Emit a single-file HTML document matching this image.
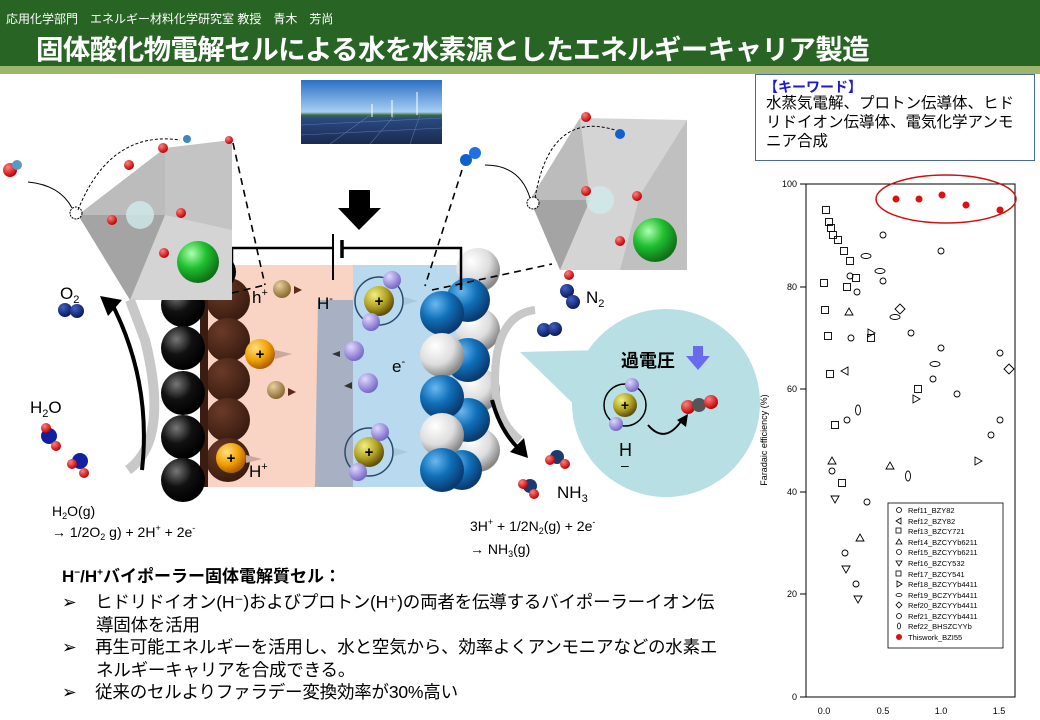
<!DOCTYPE html>
<html><head><meta charset="utf-8"><style>
body{margin:0;width:1040px;height:720px;overflow:hidden;background:#fff;position:relative;font-family:"Liberation Sans","Noto Sans CJK JP",sans-serif;}
.a{position:absolute;white-space:nowrap;}
</style></head><body>
<div class="a" style="left:0;top:0;width:1040px;height:66px;background:#286424;"></div>
<div class="a" style="left:0;top:66px;width:1040px;height:8px;background:#9cb66e;"></div>
<div class="a" style="left:6px;top:10px;font-size:12px;color:#fff;">応用化学部門　エネルギー材料化学研究室 教授　青木　芳尚</div>
<div class="a" style="left:36px;top:27px;font-size:27.5px;color:#fff;font-weight:bold;letter-spacing:-0.6px;">固体酸化物電解セルによる水を水素源としたエネルギーキャリア製造</div>

<div class="a" style="left:755px;top:74px;width:280px;height:87px;border:1px solid #4a6a9a;box-sizing:border-box;"></div>
<div class="a" style="left:764px;top:77px;font-size:14px;color:#1a1ad0;font-weight:bold;">【キーワード】</div>
<div class="a" style="left:766px;top:94px;font-size:15.5px;line-height:19px;color:#000;">水蒸気電解、プロトン伝導体、ヒド<br>リドイオン伝導体、電気化学アンモ<br>ニア合成</div>

<svg class="a" style="left:0;top:0" width="1040" height="720" viewBox="0 0 1040 720" font-family="Liberation Sans, sans-serif">
<defs>
<radialGradient id="gb" cx="0.35" cy="0.3" r="0.7"><stop offset="0" stop-color="#777"/><stop offset="0.5" stop-color="#111"/><stop offset="1" stop-color="#000"/></radialGradient>
<radialGradient id="gbr" cx="0.35" cy="0.3" r="0.7"><stop offset="0" stop-color="#6a3a28"/><stop offset="1" stop-color="#3a1c10"/></radialGradient>
<radialGradient id="gbl" cx="0.35" cy="0.3" r="0.7"><stop offset="0" stop-color="#6ab8f0"/><stop offset="0.5" stop-color="#1070b8"/><stop offset="1" stop-color="#0a3a70"/></radialGradient>
<radialGradient id="gw" cx="0.35" cy="0.3" r="0.7"><stop offset="0" stop-color="#fff"/><stop offset="0.6" stop-color="#ddd"/><stop offset="1" stop-color="#888"/></radialGradient>
<radialGradient id="gg" cx="0.35" cy="0.3" r="0.7"><stop offset="0" stop-color="#b0ffb0"/><stop offset="0.5" stop-color="#20c030"/><stop offset="1" stop-color="#107018"/></radialGradient>
<radialGradient id="go" cx="0.35" cy="0.3" r="0.7"><stop offset="0" stop-color="#ffe080"/><stop offset="0.6" stop-color="#f0a000"/><stop offset="1" stop-color="#b06000"/></radialGradient>
<radialGradient id="gy" cx="0.35" cy="0.3" r="0.7"><stop offset="0" stop-color="#f0f080"/><stop offset="0.6" stop-color="#b0a020"/><stop offset="1" stop-color="#605010"/></radialGradient>
<radialGradient id="gp" cx="0.35" cy="0.3" r="0.7"><stop offset="0" stop-color="#e0d8ff"/><stop offset="1" stop-color="#7868c8"/></radialGradient>
<radialGradient id="gt" cx="0.35" cy="0.3" r="0.7"><stop offset="0" stop-color="#e8d0a0"/><stop offset="1" stop-color="#8a6a30"/></radialGradient>
<radialGradient id="gr" cx="0.35" cy="0.3" r="0.7"><stop offset="0" stop-color="#ff8080"/><stop offset="1" stop-color="#c00000"/></radialGradient>
<radialGradient id="gn" cx="0.35" cy="0.3" r="0.7"><stop offset="0" stop-color="#4060c0"/><stop offset="1" stop-color="#0a1a60"/></radialGradient>
<linearGradient id="sky" x1="0" y1="0" x2="0" y2="1"><stop offset="0" stop-color="#2a70c8"/><stop offset="0.5" stop-color="#a8d0f0"/><stop offset="0.55" stop-color="#3a6a40"/><stop offset="0.6" stop-color="#2a4a80"/><stop offset="1" stop-color="#1a2a50"/></linearGradient>
</defs>

<rect x="301" y="80" width="141" height="64" fill="url(#sky)"/>
<g stroke="#6a8ac0" stroke-width="0.6" opacity="0.7"><line x1="301" y1="125" x2="442" y2="118"/><line x1="301" y1="135" x2="442" y2="128"/><line x1="330" y1="144" x2="370" y2="115"/><line x1="370" y1="144" x2="395" y2="115"/><line x1="410" y1="144" x2="420" y2="115"/></g>
<g stroke="#fff" stroke-width="1"><line x1="372" y1="104" x2="372" y2="117"/><line x1="392" y1="100" x2="392" y2="117"/><line x1="417" y1="92" x2="417" y2="115"/></g>

<polygon points="349,190 370,190 370,208 381,208 359,230 338,208 349,208" fill="#000"/>

<polygon points="520,352 600,350 590,420" fill="#b8e0e4"/>
<circle cx="666" cy="403" r="94" fill="#b8e0e4"/>

<rect x="200" y="265" width="118" height="222" fill="#f9d3c3"/>
<polygon points="318,300 353,265 353,487 315,487" fill="#a8b0c4"/>
<rect x="353" y="265" width="115" height="222" fill="#b8d9ee"/>
<rect x="315" y="265" width="38" height="35" fill="#f9d3c3"/>
<g fill="url(#gbr)">
<circle cx="228" cy="300" r="22"/><circle cx="228" cy="340" r="22"/><circle cx="228" cy="380" r="22"/><circle cx="228" cy="420" r="22"/><circle cx="228" cy="460" r="22"/>
</g>
<rect x="200" y="265" width="8" height="222" fill="#3a1c10"/>
<g fill="url(#gb)">
<circle cx="218" cy="272" r="18"/>
<circle cx="183" cy="305" r="22"/><circle cx="183" cy="348" r="22"/><circle cx="183" cy="393" r="22"/><circle cx="183" cy="437" r="22"/><circle cx="183" cy="480" r="22"/>
</g>
<g>
<circle cx="478" cy="270" r="22" fill="url(#gw)"/><circle cx="478" cy="330" r="22" fill="url(#gw)"/><circle cx="478" cy="390" r="22" fill="url(#gw)"/><circle cx="478" cy="450" r="22" fill="url(#gw)"/>
<circle cx="468" cy="300" r="22" fill="url(#gbl)"/><circle cx="468" cy="360" r="22" fill="url(#gbl)"/><circle cx="468" cy="420" r="22" fill="url(#gbl)"/><circle cx="462" cy="470" r="20" fill="url(#gbl)"/>
<circle cx="442" cy="313" r="22" fill="url(#gbl)"/><circle cx="442" cy="355" r="22" fill="url(#gw)"/><circle cx="442" cy="397" r="22" fill="url(#gbl)"/><circle cx="442" cy="435" r="22" fill="url(#gw)"/><circle cx="442" cy="470" r="22" fill="url(#gbl)"/>
</g>

<g stroke="#000" stroke-width="2.5" fill="none">
<polyline points="232,268 232,248 333,248"/><polyline points="342,248 461,248 461,290"/>
</g>
<line x1="333" y1="234" x2="333" y2="280" stroke="#000" stroke-width="2"/>
<line x1="342" y1="240" x2="342" y2="258" stroke="#000" stroke-width="3.5"/>

<g>
<polygon points="165,148 78,215 130,300 232,300 232,140" fill="#d4d4d4"/>
<polygon points="165,148 78,215 165,215" fill="#bcbcbc"/>
<polygon points="165,215 78,215 130,300" fill="#a4a4a4"/>
<polygon points="165,148 232,140 232,230 165,215" fill="#c4c4c4"/>
<polygon points="580,118 530,200 560,270 687,270 687,120" fill="#d4d4d4"/>
<polygon points="580,118 530,200 590,200" fill="#bcbcbc"/>
<polygon points="530,200 590,200 560,270" fill="#a4a4a4"/>
<polygon points="640,195 687,120 687,270 620,270" fill="#c0c0c0"/>
<circle cx="140" cy="215" r="14" fill="#cfeaea" opacity="0.8"/>
<circle cx="600" cy="200" r="14" fill="#cfeaea" opacity="0.8"/>
</g>
<g fill="url(#gr)">
<circle cx="163" cy="148" r="5"/><circle cx="129" cy="165" r="5"/><circle cx="112" cy="220" r="5"/><circle cx="181" cy="213" r="5"/><circle cx="164" cy="253" r="5"/><circle cx="229" cy="140" r="4"/>
<circle cx="586" cy="191" r="5"/><circle cx="569" cy="275" r="5"/><circle cx="637" cy="196" r="5"/><circle cx="620" cy="241" r="5"/><circle cx="586" cy="117" r="5"/>
<circle cx="10" cy="170" r="7"/><circle cx="17" cy="165" r="5" fill="#5a9ac0"/>
</g>
<circle cx="198" cy="262" r="21" fill="url(#gg)"/>
<circle cx="655" cy="240" r="22" fill="url(#gg)"/>
<circle cx="76" cy="213" r="6" fill="#fff" stroke="#000" stroke-dasharray="2,1"/>
<circle cx="533" cy="203" r="6" fill="#fff" stroke="#000" stroke-dasharray="2,1"/>
<circle cx="187" cy="139" r="4" fill="#3a8ac0"/><circle cx="620" cy="134" r="5" fill="#1060d0"/>
<circle cx="466" cy="160" r="6" fill="#1060d0"/><circle cx="475" cy="153" r="6" fill="#2070e0"/>
<g fill="none" stroke="#000" stroke-width="1">
<path d="M28,182 Q60,185 72,208"/><path d="M485,165 Q520,165 530,198"/>
<path d="M78,210 Q110,130 180,140" stroke-dasharray="3,2"/><path d="M535,198 Q550,110 615,130" stroke-dasharray="3,2"/>
</g>
<g stroke="#000" stroke-width="1.6" stroke-dasharray="7,5" fill="none">
<line x1="233" y1="143" x2="265" y2="285"/><line x1="232" y1="293" x2="265" y2="285"/>
<line x1="462" y1="170" x2="425" y2="286"/><line x1="432" y1="290" x2="552" y2="264"/>
</g>

<path d="M128,470 Q170,440 145,340 L130,300" fill="none" stroke="#c8c8c8" stroke-width="10"/>
<path d="M142,470 Q152,380 110,300" fill="none" stroke="#000" stroke-width="4"/>
<polygon points="100,296 122,300 108,316" fill="#000"/>
<path d="M535,310 Q495,315 495,380 Q495,420 520,440" fill="none" stroke="#c8c8c8" stroke-width="8"/>
<path d="M492,400 Q500,430 518,448" fill="none" stroke="#000" stroke-width="4"/>
<polygon points="528,458 510,452 524,438" fill="#000"/>

<circle cx="282" cy="289" r="9" fill="url(#gt)"/><circle cx="276" cy="390" r="9" fill="url(#gt)"/>
<circle cx="260" cy="354" r="15" fill="url(#go)"/><circle cx="231" cy="458" r="15" fill="url(#go)"/>
<circle cx="379" cy="301" r="15" fill="url(#gy)"/><circle cx="369" cy="452" r="15" fill="url(#gy)"/>
<circle cx="379" cy="301" r="24" fill="none" stroke="#2a4a6a" stroke-width="1.5"/>
<circle cx="369" cy="452" r="24" fill="none" stroke="#2a4a6a" stroke-width="1.5"/>
<circle cx="392" cy="280" r="9" fill="url(#gp)"/><circle cx="371" cy="322" r="9" fill="url(#gp)"/>
<circle cx="380" cy="432" r="9" fill="url(#gp)"/><circle cx="358" cy="472" r="9" fill="url(#gp)"/>
<circle cx="354" cy="351" r="10" fill="url(#gp)"/><circle cx="368" cy="383" r="10" fill="url(#gp)"/>
<g font-size="15" text-anchor="middle" font-weight="bold"><text x="260" y="359">+</text><text x="231" y="463">+</text><text x="379" y="306">+</text><text x="369" y="457">+</text></g>
<g fill="#c8a8a0"><polygon points="275,350 292,354 275,359"/><polygon points="246,455 262,459 246,463"/></g>
<g fill="#a8c8e0"><polygon points="404,297 418,301 404,305"/><polygon points="394,448 408,452 394,456"/></g>
<g fill="#5a2a1a"><polygon points="294,286 302,290 294,294"/><polygon points="288,388 296,392 288,396"/></g>
<g fill="#333"><polygon points="340,351 332,354 340,357"/><polygon points="352,382 344,386 352,389"/></g>

<circle cx="625" cy="405" r="12" fill="url(#gy)"/><circle cx="625" cy="405" r="21" fill="none" stroke="#000" stroke-width="1.5"/>
<circle cx="632" cy="385" r="7" fill="url(#gp)"/><circle cx="616" cy="424" r="7" fill="url(#gp)"/>
<text x="625" y="410" font-size="14" text-anchor="middle" font-weight="bold">+</text>
<circle cx="688" cy="407" r="7" fill="url(#gr)"/><circle cx="699" cy="405" r="7" fill="#555"/><circle cx="711" cy="402" r="7" fill="url(#gr)"/>
<path d="M648,425 Q665,445 682,420" fill="none" stroke="#000" stroke-width="2"/>
<polygon points="677,420 688,414 686,427" fill="#000"/>
<text x="621" y="367" font-size="18" font-weight="bold" font-family="Liberation Sans, Noto Sans CJK JP, sans-serif">過電圧</text>
<polygon points="693,346 703,346 703,356 710,356 698,370 686,356 693,356" fill="#6a6af0"/>
<text x="619" y="456" font-size="18">H</text><text x="621" y="470" font-size="14">–</text>

<circle cx="65" cy="310" r="7" fill="url(#gn)"/><circle cx="77" cy="311" r="7" fill="url(#gn)"/>
<circle cx="49" cy="436" r="8" fill="#1020a0"/><circle cx="46" cy="428" r="5" fill="url(#gr)"/><circle cx="56" cy="446" r="5" fill="url(#gr)"/>
<circle cx="80" cy="461" r="8" fill="#1020a0"/><circle cx="72" cy="464" r="5" fill="url(#gr)"/><circle cx="84" cy="473" r="5" fill="url(#gr)"/>
<circle cx="567" cy="291" r="7" fill="url(#gn)"/><circle cx="573" cy="302" r="7" fill="url(#gn)"/>
<circle cx="544" cy="330" r="7" fill="url(#gn)"/><circle cx="555" cy="329" r="7" fill="url(#gn)"/>
<circle cx="557" cy="457" r="7" fill="#1a3a70"/><circle cx="550" cy="460" r="5" fill="url(#gr)"/><circle cx="565" cy="464" r="5" fill="url(#gr)"/>
<circle cx="530" cy="486" r="7" fill="#1a3a70"/><circle cx="523" cy="484" r="5" fill="url(#gr)"/><circle cx="534" cy="494" r="5" fill="url(#gr)"/>

<g font-size="17" fill="#000">
<text x="60" y="299">O<tspan font-size="11" dy="4">2</tspan></text>
<text x="30" y="413">H<tspan font-size="11" dy="4">2</tspan><tspan dy="-4">O</tspan></text>
<text x="252" y="303">h<tspan font-size="11" dy="-7">+</tspan></text>
<text x="317" y="309">H<tspan font-size="11" dy="-7">-</tspan></text>
<text x="392" y="372">e<tspan font-size="11" dy="-7">-</tspan></text>
<text x="249" y="477">H<tspan font-size="11" dy="-7">+</tspan></text>
<text x="586" y="303">N<tspan font-size="11" dy="4">2</tspan></text>
<text x="557" y="498">NH<tspan font-size="11" dy="4">3</tspan></text>
</g>
<g font-size="14">
<text x="52" y="516">H<tspan font-size="9" dy="3">2</tspan><tspan dy="-3">O(g)</tspan></text>
<text x="52" y="537">→ 1/2O<tspan font-size="9" dy="3">2</tspan><tspan dy="-3"> g) + 2H</tspan><tspan font-size="9" dy="-6">+</tspan><tspan dy="6"> + 2e</tspan><tspan font-size="9" dy="-6">-</tspan></text>
<text x="470" y="531">3H<tspan font-size="9" dy="-6">+</tspan><tspan dy="6"> + 1/2N</tspan><tspan font-size="9" dy="3">2</tspan><tspan dy="-3">(g) + 2e</tspan><tspan font-size="9" dy="-6">-</tspan></text>
<text x="470" y="554">→ NH<tspan font-size="9" dy="3">3</tspan><tspan dy="-3">(g)</tspan></text>
</g>

<rect x="806" y="184" width="209" height="513" fill="none" stroke="#000" stroke-width="1"/>
<g stroke="#000"><line x1="800" y1="184" x2="806" y2="184"/><line x1="800" y1="287" x2="806" y2="287"/><line x1="800" y1="389" x2="806" y2="389"/><line x1="800" y1="492" x2="806" y2="492"/><line x1="800" y1="594" x2="806" y2="594"/><line x1="800" y1="697" x2="806" y2="697"/></g>
<g font-size="9" text-anchor="end"><text x="797" y="187">100</text><text x="797" y="290">80</text><text x="797" y="392">60</text><text x="797" y="495">40</text><text x="797" y="597">20</text><text x="797" y="700">0</text></g>
<g font-size="9" text-anchor="middle"><text x="824" y="714">0.0</text><text x="883" y="714">0.5</text><text x="941" y="714">1.0</text><text x="999" y="714">1.5</text></g>
<text transform="translate(767,440) rotate(-90)" font-size="9" text-anchor="middle">Faradaic efficiency (%)</text>
<ellipse cx="946" cy="199" rx="70" ry="24" fill="none" stroke="#d01010" stroke-width="1.5"/>
<g fill="#e01010"><circle cx="896" cy="199" r="3.5"/><circle cx="919" cy="199" r="3.5"/><circle cx="942" cy="195" r="3.5"/><circle cx="966" cy="205" r="3.5"/><circle cx="1000" cy="210" r="3.5"/></g>
<g fill="none" stroke="#000" stroke-width="0.9">
<g transform="translate(-3.5,-3.5)">
<rect x="826" y="210" width="7" height="7"/><rect x="829" y="222" width="7" height="7"/><rect x="831" y="228" width="7" height="7"/><rect x="833" y="235" width="7" height="7"/><rect x="838" y="240" width="7" height="7"/><rect x="844" y="251" width="7" height="7"/><rect x="850" y="261" width="7" height="7"/><rect x="856" y="278" width="7" height="7"/><rect x="847" y="287" width="7" height="7"/><rect x="824" y="283" width="7" height="7"/><rect x="825" y="310" width="7" height="7"/><rect x="828" y="336" width="7" height="7"/><rect x="830" y="374" width="7" height="7"/><rect x="835" y="425" width="7" height="7"/><rect x="842" y="483" width="7" height="7"/>
<rect x="871" y="338" width="7" height="7"/><rect x="918" y="389" width="7" height="7"/>
</g>
<circle cx="883" cy="235" r="3"/><circle cx="883" cy="281" r="3"/><circle cx="857" cy="292" r="3"/><circle cx="847" cy="420" r="3"/><circle cx="832" cy="471" r="3"/><circle cx="867" cy="502" r="3"/><circle cx="845" cy="553" r="3"/><circle cx="856" cy="584" r="3"/><circle cx="941" cy="251" r="3"/><circle cx="941" cy="348" r="3"/><circle cx="1000" cy="353" r="3"/><circle cx="1000" cy="420" r="3"/><circle cx="991" cy="435" r="3"/><circle cx="957" cy="394" r="3"/>
<circle cx="911" cy="333" r="3"/><circle cx="851" cy="338" r="3"/><circle cx="933" cy="379" r="3"/><circle cx="850" cy="276" r="3"/>
<polygon points="849,308 853,315 845,315"/><polygon points="832,457 836,464 828,464"/><polygon points="890,462 894,469 886,469"/><polygon points="860,534 864,541 856,541"/>
<polygon points="835,503 839,496 831,496"/><polygon points="846,573 850,566 842,566"/><polygon points="858,603 862,596 854,596"/>
<polygon points="875,333 868,329 868,337"/><polygon points="920,399 913,395 913,403"/><polygon points="982,461 975,457 975,465"/>
<polygon points="841,371 848,367 848,375"/>
<polygon points="900,304 905,309 900,314 895,309"/><polygon points="1009,364 1014,369 1009,374 1004,369"/>
<ellipse cx="866" cy="256" rx="5" ry="2.5"/><ellipse cx="880" cy="271" rx="5" ry="2.5"/><ellipse cx="895" cy="317" rx="5" ry="2.5"/><ellipse cx="935" cy="364" rx="5" ry="2.5"/>
<ellipse cx="858" cy="410" rx="2.5" ry="5"/><ellipse cx="908" cy="476" rx="2.5" ry="5"/>
</g>
<rect x="888" y="503" width="115" height="145" fill="#fff" stroke="#000" stroke-width="0.8"/>
<g font-size="7.5" fill="#000">
<text x="908" y="513">Ref11_BZY82</text><text x="908" y="524">Ref12_BZY82</text><text x="908" y="534">Ref13_BZCY721</text><text x="908" y="545">Ref14_BZCYYb6211</text><text x="908" y="555">Ref15_BZCYYb6211</text><text x="908" y="566">Ref16_BZCY532</text><text x="908" y="577">Ref17_BZCY541</text><text x="908" y="587">Ref18_BZCYYb4411</text><text x="908" y="598">Ref19_BCZYYb4411</text><text x="908" y="608">Ref20_BZCYYb4411</text><text x="908" y="619">Ref21_BZCYYb4411</text><text x="908" y="629">Ref22_BHSZCYYb</text><text x="908" y="640">Thiswork_BZI55</text>
</g>
<g fill="none" stroke="#000" stroke-width="0.8">
<circle cx="899" cy="510" r="2.5"/><polygon points="896,521 901,518 901,524"/><rect x="896" y="528" width="5" height="5"/><polygon points="899,539 902,544 896,544"/><circle cx="899" cy="552" r="2.5"/><polygon points="896,561 902,561 899,566"/><rect x="896" y="571" width="5" height="5"/><polygon points="897,581 902,584 897,587"/><ellipse cx="899" cy="595" rx="3" ry="1.5"/><polygon points="899,602 902,605 899,608 896,605"/><circle cx="899" cy="616" r="2.5"/><ellipse cx="899" cy="626" rx="1.5" ry="3"/>
</g>
<circle cx="899" cy="637" r="3" fill="#e01010"/>
</svg>

<div class="a" style="left:62px;top:562px;font-size:17px;font-weight:bold;">H<sup style="font-size:10px">−</sup>/H<sup style="font-size:10px">+</sup>バイポーラー固体電解質セル：</div>
<div class="a" style="left:62px;top:591px;font-size:17.5px;line-height:22.5px;letter-spacing:-0.2px;">
➢&nbsp;&nbsp;&nbsp;&nbsp;ヒドリドイオン(H⁻)およびプロトン(H⁺)の両者を伝導するバイポーラーイオン伝<br>
<span style="padding-left:34px">導固体を活用</span><br>
➢&nbsp;&nbsp;&nbsp;&nbsp;再生可能エネルギーを活用し、水と空気から、効率よくアンモニアなどの水素エ<br>
<span style="padding-left:34px">ネルギーキャリアを合成できる。</span><br>
➢&nbsp;&nbsp;&nbsp;&nbsp;従来のセルよりファラデー変換効率が30%高い
</div>
</body></html>
